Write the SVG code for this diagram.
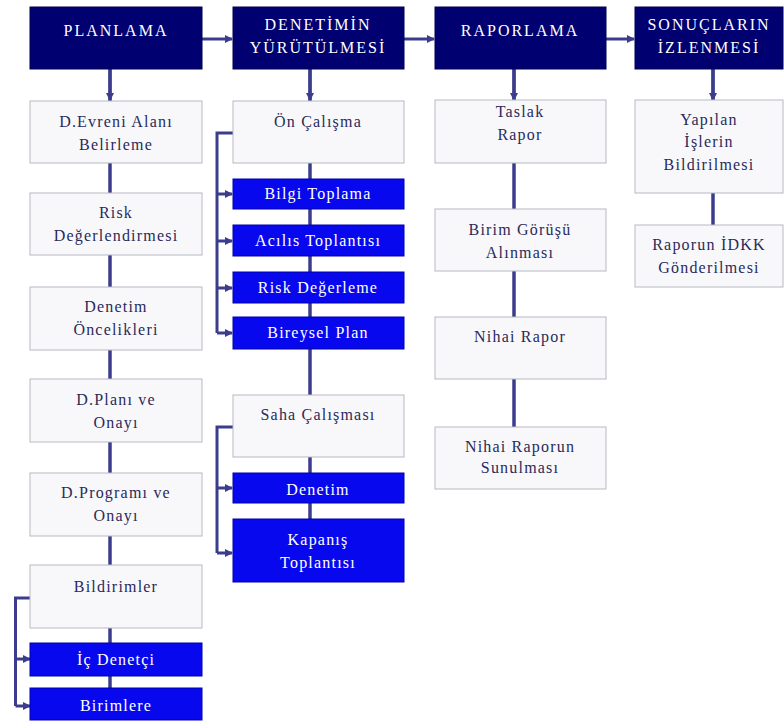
<svg xmlns="http://www.w3.org/2000/svg" width="784" height="722" viewBox="0 0 784 722">
<defs>
<marker id="ah" markerWidth="8" markerHeight="8" refX="7" refY="4" orient="auto" markerUnits="userSpaceOnUse">
<path d="M0,0 L8,4 L0,8 Z" fill="#3c3c8c"/>
</marker>
</defs>
<style>
.hd{fill:#000070;stroke:#000050;stroke-width:1}
.lt{fill:#f8f8fa;stroke:#b8b8c4;stroke-width:1}
.bl{fill:#0808ee;stroke:#0000aa;stroke-width:1}
.ht{font-size:16px;fill:#ffffff;letter-spacing:2px}
.tt{font-size:16px;fill:#2a2a5a;letter-spacing:1.2px}
.wt{font-size:16px;fill:#ffffff;letter-spacing:1.2px}
.ln{stroke:#3c3c8c;stroke-width:3.5;fill:none}
.ar{stroke:#3c3c8c;stroke-width:3;fill:none}
</style>
<rect width="784" height="722" fill="#ffffff"/>
<g id="connectors">
<line class="ln" x1="110" y1="69" x2="110" y2="688"/>
<line class="ln" x1="310" y1="69" x2="310" y2="519"/>
<line class="ln" x1="514" y1="69" x2="514" y2="427"/>
<line class="ln" x1="713" y1="69" x2="713" y2="225"/>
<line class="ar" x1="110" y1="69" x2="110" y2="100" marker-end="url(#ah)"/>
<line class="ar" x1="310" y1="69" x2="310" y2="100" marker-end="url(#ah)"/>
<line class="ar" x1="514" y1="69" x2="514" y2="100" marker-end="url(#ah)"/>
<line class="ar" x1="713" y1="69" x2="713" y2="100" marker-end="url(#ah)"/>
<line class="ar" x1="202" y1="39" x2="232" y2="39" marker-end="url(#ah)"/>
<line class="ar" x1="404" y1="39" x2="434" y2="39" marker-end="url(#ah)"/>
<line class="ar" x1="606" y1="39" x2="634" y2="39" marker-end="url(#ah)"/>
<path class="ar" d="M30,598 H15.5 V706"/>
<line class="ar" x1="15.5" y1="659" x2="30" y2="659" marker-end="url(#ah)"/>
<line class="ar" x1="15.5" y1="706" x2="30" y2="706" marker-end="url(#ah)"/>
<path class="ar" d="M233,133 H217 V333"/>
<line class="ar" x1="217" y1="194" x2="232" y2="194" marker-end="url(#ah)"/>
<line class="ar" x1="217" y1="241" x2="232" y2="241" marker-end="url(#ah)"/>
<line class="ar" x1="217" y1="288" x2="232" y2="288" marker-end="url(#ah)"/>
<line class="ar" x1="217" y1="333" x2="232" y2="333" marker-end="url(#ah)"/>
<path class="ar" d="M233,427 H217 V553"/>
<line class="ar" x1="217" y1="488" x2="232" y2="488" marker-end="url(#ah)"/>
<line class="ar" x1="217" y1="553" x2="232" y2="553" marker-end="url(#ah)"/>
</g>
<g font-family="Liberation Serif, serif" text-anchor="middle">
<g id="h-planlama"><rect class="hd" x="30" y="7" width="172" height="62"/><text class="ht" x="116" y="36">PLANLAMA</text></g>
<g id="h-denetim"><rect class="hd" x="233" y="7" width="171" height="62"/><text class="ht" x="318" y="30">DENETİMİN</text><text class="ht" x="318" y="53">YÜRÜTÜLMESİ</text></g>
<g id="h-rapor"><rect class="hd" x="435" y="7" width="171" height="62"/><text class="ht" x="520" y="36">RAPORLAMA</text></g>
<g id="h-sonuc"><rect class="hd" x="635" y="7" width="148" height="62"/><text class="ht" x="709" y="30">SONUÇLARIN</text><text class="ht" x="709" y="53">İZLENMESİ</text></g>

<g id="p1"><rect class="lt" x="30" y="101" width="172" height="62"/><text class="tt" x="116" y="127">D.Evreni Alanı</text><text class="tt" x="116" y="150">Belirleme</text></g>
<g id="p2"><rect class="lt" x="30" y="193" width="172" height="62"/><text class="tt" x="116" y="218">Risk</text><text class="tt" x="116" y="241">Değerlendirmesi</text></g>
<g id="p3"><rect class="lt" x="30" y="287" width="172" height="63"/><text class="tt" x="116" y="312">Denetim</text><text class="tt" x="116" y="335">Öncelikleri</text></g>
<g id="p4"><rect class="lt" x="30" y="379" width="172" height="63"/><text class="tt" x="116" y="405">D.Planı ve</text><text class="tt" x="116" y="428">Onayı</text></g>
<g id="p5"><rect class="lt" x="30" y="473" width="172" height="63"/><text class="tt" x="116" y="498">D.Programı ve</text><text class="tt" x="116" y="521">Onayı</text></g>
<g id="p6"><rect class="lt" x="30" y="565" width="172" height="63"/><text class="tt" x="116" y="592">Bildirimler</text></g>
<g id="p7"><rect class="bl" x="30" y="643" width="172" height="33"/><text class="wt" x="116" y="665">İç Denetçi</text></g>
<g id="p8"><rect class="bl" x="30" y="688" width="172" height="32"/><text class="wt" x="116" y="711">Birimlere</text></g>

<g id="d1"><rect class="lt" x="233" y="101" width="171" height="62"/><text class="tt" x="318" y="127">Ön Çalışma</text></g>
<g id="d2"><rect class="bl" x="233" y="179" width="171" height="30"/><text class="wt" x="318" y="199">Bilgi Toplama</text></g>
<g id="d3"><rect class="bl" x="233" y="225" width="171" height="31"/><text class="wt" x="318" y="246">Acılıs Toplantısı</text></g>
<g id="d4"><rect class="bl" x="233" y="272" width="171" height="31"/><text class="wt" x="318" y="293">Risk Değerleme</text></g>
<g id="d5"><rect class="bl" x="233" y="317" width="171" height="32"/><text class="wt" x="318" y="338">Bireysel Plan</text></g>
<g id="d6"><rect class="lt" x="233" y="395" width="171" height="62"/><text class="tt" x="318" y="420">Saha Çalışması</text></g>
<g id="d7"><rect class="bl" x="233" y="473" width="171" height="30"/><text class="wt" x="318" y="495">Denetim</text></g>
<g id="d8"><rect class="bl" x="233" y="519" width="171" height="63"/><text class="wt" x="318" y="545">Kapanış</text><text class="wt" x="318" y="568">Toplantısı</text></g>

<g id="r1"><rect class="lt" x="435" y="100" width="171" height="63"/><text class="tt" x="520" y="117">Taslak</text><text class="tt" x="520" y="140">Rapor</text></g>
<g id="r2"><rect class="lt" x="435" y="209" width="171" height="62"/><text class="tt" x="520" y="235">Birim Görüşü</text><text class="tt" x="520" y="258">Alınması</text></g>
<g id="r3"><rect class="lt" x="435" y="317" width="171" height="62"/><text class="tt" x="520" y="342">Nihai Rapor</text></g>
<g id="r4"><rect class="lt" x="435" y="427" width="171" height="62"/><text class="tt" x="520" y="452">Nihai Raporun</text><text class="tt" x="520" y="473">Sunulması</text></g>

<g id="s1"><rect class="lt" x="635" y="100" width="148" height="93"/><text class="tt" x="709" y="125">Yapılan</text><text class="tt" x="709" y="147">İşlerin</text><text class="tt" x="709" y="170">Bildirilmesi</text></g>
<g id="s2"><rect class="lt" x="635" y="225" width="148" height="62"/><text class="tt" x="709" y="250">Raporun İDKK</text><text class="tt" x="709" y="273">Gönderilmesi</text></g>
</g>
</svg>
